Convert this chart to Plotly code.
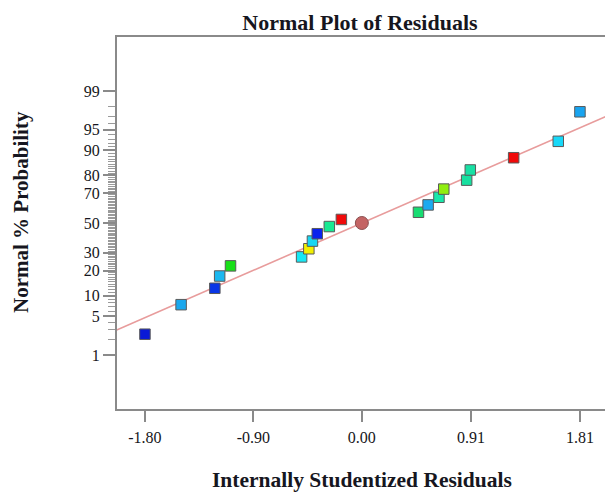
import plotly.graph_objects as go
from statistics import NormalDist

# ---------------- data ----------------
residuals = [-1.80, -1.50, -1.22, -1.18, -1.09, -0.50, -0.44, -0.41, -0.37, -0.27,
             -0.17, 0.47, 0.55, 0.64, 0.68, 0.87, 0.90, 1.26, 1.63, 1.81]
probabilities = [2.5, 7.5, 12.5, 17.5, 22.5, 27.5, 32.5, 37.5, 42.5, 47.5,
                 52.5, 57.5, 62.5, 67.5, 72.5, 77.5, 82.5, 87.5, 92.5, 97.5]
point_colors = ["#0a1ad6", "#1aa8ee", "#0a36e6", "#1ab8f0", "#18e018", "#18e8f4",
                "#f2f000", "#18d6f2", "#0a22ee", "#18e892", "#f00a0a", "#18dc72",
                "#1aaaf0", "#18e8aa", "#90ee10", "#18e0a0", "#18e0a4", "#f00a0a",
                "#18d8f8", "#18a4f0"]
center_x = [0.0]
center_p = [50.0]
line_sd = 1.078
line_x = [-2.2, 2.2]

y_tick_pct = [1, 5, 10, 20, 30, 50, 70, 80, 90, 95, 99]
y_minor_pct = list(range(1, 100))
x_tick_vals = [-1.80, -0.90, 0.00, 0.905, 1.81]
x_tick_text = ["-1.80", "-0.90", "0.00", "0.91", "1.81"]

nd = NormalDist()
def z(p):
    return nd.inv_cdf(p / 100.0)

FONT = "Liberation Serif, Times New Roman, serif"
TXT = "#161620"
AX = "#8a8a8a"

fig = go.Figure()

# fit line
fig.add_trace(go.Scatter(
    x=line_x, y=[v / line_sd for v in line_x], mode="lines",
    line=dict(color="#e89c9c", width=1.6), hoverinfo="skip", showlegend=False))

# points
fig.add_trace(go.Scatter(
    x=residuals, y=[z(p) for p in probabilities], mode="markers",
    marker=dict(symbol="square", size=10.5, color=point_colors,
                line=dict(color="#5a5a5a", width=1)),
    showlegend=False))

# center marker
fig.add_trace(go.Scatter(
    x=center_x, y=[z(p) for p in center_p], mode="markers",
    marker=dict(symbol="circle", size=13, color="#c46464",
                line=dict(color="#8a5050", width=1)),
    showlegend=False))

L, R, T, B = 117, 0, 37, 84
W, H = 605, 493
pw, ph = W - L - R, H - T - B

def px(xp):
    return (xp - L) / pw
def py(yp):
    return (H - B - yp) / ph

fig.update_layout(
    width=W, height=H,
    margin=dict(l=L, r=R, t=T, b=B, pad=0),
    paper_bgcolor="white", plot_bgcolor="white",
    font=dict(family=FONT, color=TXT, size=16),
    title=dict(text="<b>Normal Plot of Residuals</b>", x=360 / W, y=1 - 22 / H,
               xanchor="center", yanchor="middle",
               font=dict(family=FONT, size=22, color=TXT)),
    xaxis=dict(range=[-2.032, 2.018], showgrid=False, zeroline=False,
               showline=True, linecolor=AX, linewidth=2, mirror=True,
               ticks="outside", ticklen=11, tickwidth=1.5, tickcolor=AX,
               tickvals=x_tick_vals, ticktext=x_tick_text,
               tickfont=dict(family=FONT, size=16, color=TXT),
               ticklabelstandoff=2),
    yaxis=dict(range=[-3.278, 3.278], showgrid=False, zeroline=False,
               showline=True, linecolor=AX, linewidth=2, mirror=False,
               ticks="outside", ticklen=12, tickwidth=1.5, tickcolor=AX,
               tickvals=[z(p) for p in y_tick_pct],
               ticktext=[str(p) for p in y_tick_pct],
               tickfont=dict(family=FONT, size=16, color=TXT),
               minor=dict(tickvals=[z(p) for p in y_minor_pct], ticks="outside",
                          ticklen=7, tickwidth=1, tickcolor="#9a9a9a")),
    annotations=[
        dict(text="<b>Internally Studentized Residuals</b>", xref="paper", yref="paper",
             x=px(362), y=py(480), xanchor="center", yanchor="middle",
             showarrow=False, font=dict(family=FONT, size=21.5, color=TXT)),
        dict(text="<b>Normal % Probability</b>", xref="paper", yref="paper",
             x=px(21), y=py(212), xanchor="center", yanchor="middle", textangle=-90,
             showarrow=False, font=dict(family=FONT, size=21, color=TXT)),
    ],
)

fig.write_html("out.html")
